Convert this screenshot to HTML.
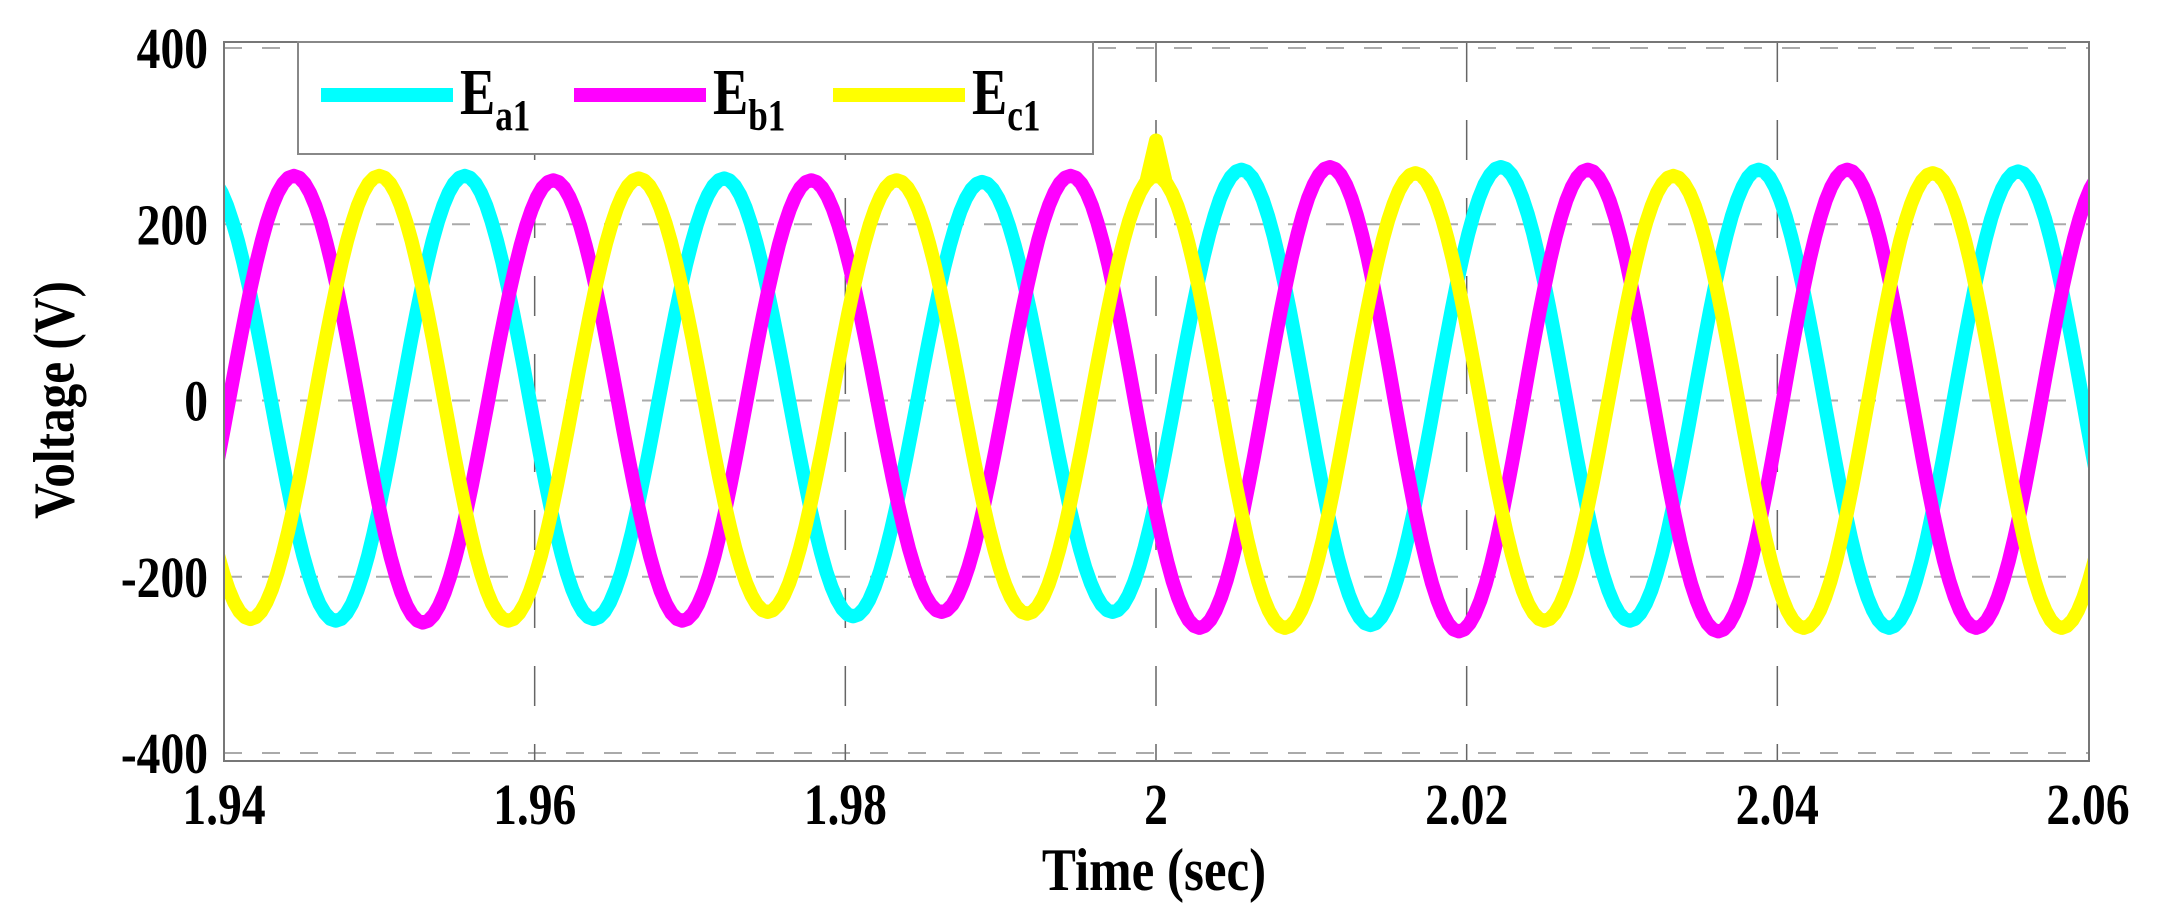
<!DOCTYPE html>
<html><head><meta charset="utf-8"><style>
body{margin:0;background:#fff;}
svg{display:block;font-family:"Liberation Serif",serif;font-weight:bold;}
</style></head><body>
<svg id="chart" width="2170" height="918" viewBox="0 0 2170 918">
<rect x="0" y="0" width="2170" height="918" fill="#fff"/>
<g id="grid"></g>
<g id="plot"></g>
<rect x="224" y="42" width="1865" height="719" fill="none" stroke="#777" stroke-width="2"/>
<g id="ticks"></g>
<g transform="translate(60 400) rotate(-90) scale(0.85 1)"><text x="0" y="0" font-size="58" text-anchor="middle" dominant-baseline="middle">Voltage (V)</text></g>
<g transform="translate(1154 890) scale(0.85 1)"><text x="0" y="0" font-size="60" text-anchor="middle">Time (sec)</text></g>
<g>
<rect x="298" y="42" width="795" height="112" fill="#fff" stroke="#888" stroke-width="2"/>
<line x1="321" y1="95" x2="453" y2="95" stroke="#00ffff" stroke-width="14"/>
<g transform="translate(460 114) scale(0.8 1)"><text x="0" y="0" font-size="66">E<tspan font-size="44" dy="16">a1</tspan></text></g>
<line x1="574" y1="95" x2="706" y2="95" stroke="#ff00ff" stroke-width="14"/>
<g transform="translate(713 114) scale(0.8 1)"><text x="0" y="0" font-size="66">E<tspan font-size="44" dy="16">b1</tspan></text></g>
<line x1="833" y1="95" x2="965" y2="95" stroke="#ffff00" stroke-width="14"/>
<g transform="translate(972 114) scale(0.8 1)"><text x="0" y="0" font-size="66">E<tspan font-size="44" dy="16">c1</tspan></text></g>
</g>
</svg>
<script>
const xTicks=[1.94,1.96,1.98,2,2.02,2.04,2.06];
const xTickLabels=["1.94","1.96","1.98","2","2.02","2.04","2.06"];
const yTicks=[400,200,0,-200,-400];
const yTickLabels=["400","200","0","-200","-400"];
// extreme points (time, value) for each phase
const eaTimes=[1.9388,1.9472,1.9555,1.9638,1.9722,1.9805,1.9888,1.9972,2.0055,2.0138,2.0222,2.0305,2.0388,2.0472,2.0555,2.0638];
const eaValues=[255,-250,255,-248,252,-245,248,-240,262,-255,265,-250,262,-258,260,-258];
const ebTimes=[1.9362,1.9445,1.9528,1.9612,1.9695,1.9778,1.9862,1.9945,2.0028,2.0112,2.0195,2.0278,2.0362,2.0445,2.0528,2.0612];
const ebValues=[-250,255,-252,250,-250,250,-240,255,-258,265,-262,262,-262,262,-258,260];
const ecTimes=[1.9333,1.9417,1.95,1.9583,1.9667,1.975,1.9833,1.9917,2.0,2.0083,2.0167,2.025,2.0333,2.0417,2.05,2.0583,2.0667];
const ecValues=[255,-248,255,-250,252,-240,250,-242,255,-258,258,-250,255,-258,258,-258,255];
// transient spike on Ec1 near t=2
const ecSpikeTimes=[1.9994,2.0,2.0006];
const ecSpikeValues=[250,295,250];

const X0=1.94,X1=2.06,PX0=224,PX1=2088;
const Y0=400,Y1=-400,PY0=48,PY1=753;
function sx(t){return PX0+(t-X0)/(X1-X0)*(PX1-PX0);}
function sy(v){return PY0+(Y0-v)/(Y0-Y1)*(PY1-PY0);}
const NS="http://www.w3.org/2000/svg";
const grid=document.getElementById('grid'),plot=document.getElementById('plot'),ticks=document.getElementById('ticks');

function label(x,y,str,anchor,name){
  const g=document.createElementNS(NS,'g');
  g.setAttribute('transform','translate('+x+' '+y+') scale(0.82 1)');
  const t=document.createElementNS(NS,'text');
  t.setAttribute('x',0);t.setAttribute('y',0);t.setAttribute('font-size','58');t.setAttribute('text-anchor',anchor);
  t.textContent=str;
  
  
  g.appendChild(t);ticks.appendChild(g);
}

yTicks.forEach((v,i)=>{
  const l=document.createElementNS(NS,'line');
  l.setAttribute('x1',PX0);l.setAttribute('x2',PX1);l.setAttribute('y1',sy(v));l.setAttribute('y2',sy(v));
  l.setAttribute('stroke','#aaa');l.setAttribute('stroke-width','2');l.setAttribute('stroke-dasharray','18 20');
  
  
  grid.appendChild(l);
  label(208,sy(v)+20,yTickLabels[i],'end','y-tick-label');
});
xTicks.forEach((v,i)=>{
  if(i>0&&i<xTicks.length-1){
    const l=document.createElementNS(NS,'line');
    l.setAttribute('x1',sx(v));l.setAttribute('x2',sx(v));l.setAttribute('y1',42);l.setAttribute('y2',761);
    l.setAttribute('stroke','#666');l.setAttribute('stroke-width','1.5');l.setAttribute('stroke-dasharray','40 38');
    
    
    grid.appendChild(l);
  }
  label(sx(v),824,xTickLabels[i],'middle','x-tick-label');
});

const clip=document.createElementNS(NS,'clipPath');clip.setAttribute('id','pc');
const cr=document.createElementNS(NS,'rect');cr.setAttribute('x',PX0);cr.setAttribute('y',42);cr.setAttribute('width',PX1-PX0);cr.setAttribute('height',719);
clip.appendChild(cr);plot.appendChild(clip);

function addPath(d,color,name){
  const p=document.createElementNS(NS,'path');
  p.setAttribute('d',d);p.setAttribute('fill','none');p.setAttribute('stroke',color);
  p.setAttribute('stroke-width','14');p.setAttribute('stroke-linejoin','round');
  p.setAttribute('clip-path','url(#pc)');
  
  
  plot.appendChild(p);
}
function drawSeries(times,vals,color,name){
  let d='';
  for(let k=0;k<times.length-1;k++){
    const n=24;
    for(let j=(k===0?0:1);j<=n;j++){
      const f=j/n;
      const w=(1-Math.cos(Math.PI*f))/2;
      const t=times[k]+(times[k+1]-times[k])*f;
      const v=vals[k]+(vals[k+1]-vals[k])*w;
      d+=(d?'L':'M')+sx(t).toFixed(1)+','+sy(v).toFixed(1);
    }
  }
  addPath(d,color,name);
}
drawSeries(eaTimes,eaValues,'#00ffff','series-ea1');
drawSeries(ebTimes,ebValues,'#ff00ff','series-eb1');
drawSeries(ecTimes,ecValues,'#ffff00','series-ec1');
let sd='';
ecSpikeTimes.forEach((t,i)=>{sd+=(i?'L':'M')+sx(t).toFixed(1)+','+sy(ecSpikeValues[i]).toFixed(1);});
addPath(sd,'#ffff00','series-ec1-spike');
</script>
</body></html>
